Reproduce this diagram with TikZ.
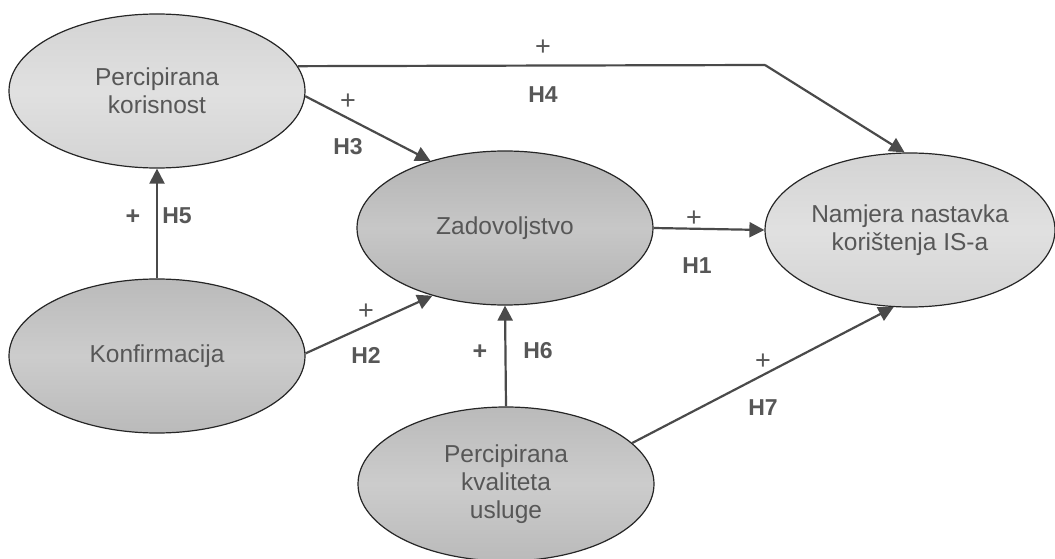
\documentclass[tikz,border=0pt]{standalone}
\usepackage{fontspec}
\setmainfont{Liberation Sans}
\usetikzlibrary{shapes.geometric,arrows.meta}
\definecolor{txt}{HTML}{575757}
\definecolor{ln}{HTML}{4A4A4A}
\tikzset{
  construct/.style={ellipse, draw=black!85, line width=1.2pt, minimum width=296pt, minimum height=154pt,
    inner sep=0pt, align=center, text=txt, font=\fontsize{24.5}{28}\selectfont},
  light/.style={top color=black!17, bottom color=black!17, middle color=black!12},
  mid/.style={top color=black!27, bottom color=black!27, middle color=black!20},
  dark/.style={top color=black!30, bottom color=black!30, middle color=black!22},
  link/.style={draw=ln, line width=2.2pt, -{Triangle[length=15pt,width=15pt]}},
  plain/.style={draw=ln, line width=2.2pt},
  hlab/.style={text=txt, font=\bfseries\fontsize{23}{23}\selectfont, inner sep=0pt},
  plab/.style={text=txt, font=\fontsize{27}{27}\selectfont, inner sep=0pt},
  bplab/.style={text=txt, font=\bfseries\fontsize{25}{25}\selectfont, inner sep=0pt}
}
\begin{document}
\begin{tikzpicture}[x=1pt,y=-1pt]
\useasboundingbox (0,0) rectangle (1055,559);
\node[construct, light] (pk) at (157,91) {Percipirana\\korisnost};
\node[construct, mid] (conf) at (157,356) {Konfirmacija};
\node[construct, dark] (zad) at (505,228) {Zadovoljstvo};
\node[construct, light, minimum width=290pt] (nam) at (910,230) {Namjera nastavka\\korištenja IS-a};
\node[construct, mid] (kval) at (506,484) {Percipirana\\kvaliteta\\usluge};
\coordinate (c4) at (765,65);
% connectors
\draw[plain] (pk.10.5) -- (c4);
\draw[link] (c4) -- (nam.94);
\draw[link] (pk.-2) -- (zad.138);
\draw[link] (zad.east) -- (nam.west);
\draw[link] (conf.north) -- (pk.south);
\draw[link] (conf.1) -- (zad.223);
\draw[link] (kval.north) -- (zad.south);
\draw[link] (kval.18) -- (nam.258);
% labels
\node[plab] (p4) at (543,48) {+};
\node[hlab] (h4) at (543,95) {H4};
\node[plab] (p3) at (348,102) {+};
\node[hlab] (h3) at (348,147) {H3};
\node[plab] (p1) at (694,219) {+};
\node[hlab] (h1) at (697,266) {H1};
\node[bplab] (p5) at (133,217) {+};
\node[hlab] (h5) at (177,216) {H5};
\node[plab] (p2) at (366,312) {+};
\node[hlab] (h2) at (366,355) {H2};
\node[bplab] (p6) at (480,352) {+};
\node[hlab] (h6) at (538,351) {H6};
\node[plab] (p7) at (763,362) {+};
\node[hlab] (h7) at (763,408) {H7};
\end{tikzpicture}
\end{document}
